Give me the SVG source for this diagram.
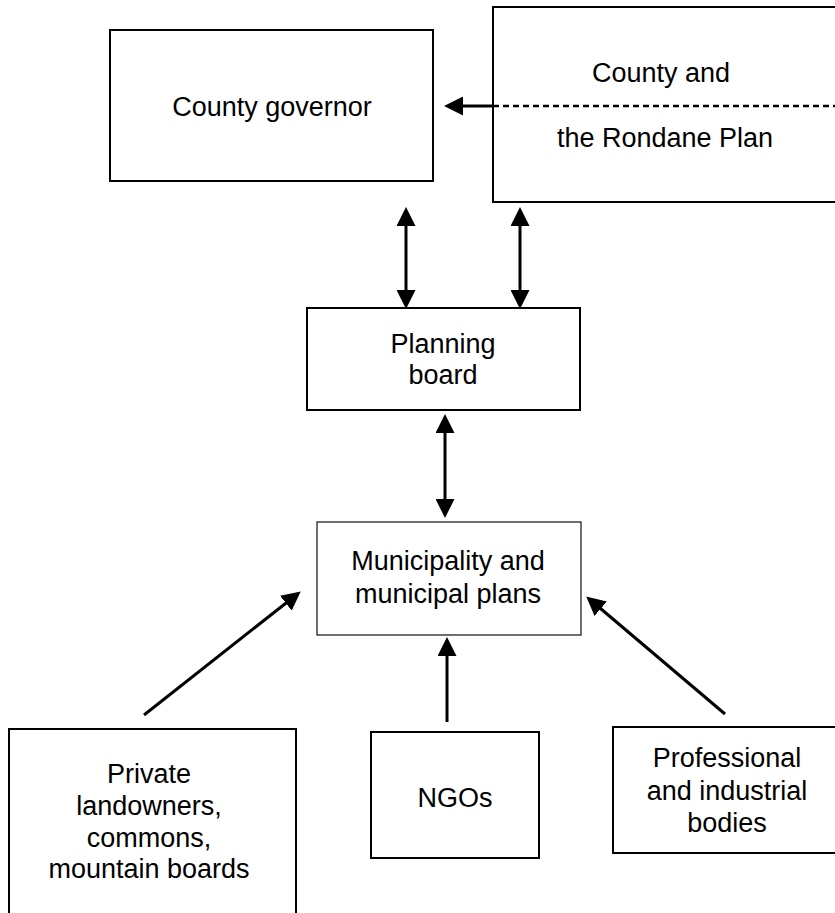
<svg xmlns="http://www.w3.org/2000/svg" width="835" height="913" viewBox="0 0 835 913">
  <style>
    .box { fill: #ffffff; stroke: #000000; stroke-width: 2; }
    .thin { stroke-width: 1.3; stroke: #222222; }
    .lbl { font-family: "Liberation Sans", Arial, Helvetica, sans-serif; font-size: 27px; fill: #000000; text-anchor: middle; }
    .arr { stroke: #000000; stroke-width: 3; fill: none; }
    .dash { stroke: #000000; stroke-width: 2.5; stroke-dasharray: 6 4; fill: none; }
  </style>
  <defs>
    <!-- triangular head; tip sits 10 units beyond the line end -->
    <marker id="head" viewBox="0 0 19 19" refX="8" refY="9.5" markerWidth="19" markerHeight="19" markerUnits="userSpaceOnUse" orient="auto-start-reverse">
      <path d="M0,0 L19,9.5 L0,19 Z" fill="#000000"/>
    </marker>
  </defs>

  <g id="county-governor">
    <rect class="box" x="110" y="30" width="323" height="151"/>
    <text class="lbl" x="272" y="116">County governor</text>
  </g>

  <g id="county-rondane">
    <rect class="box" x="493" y="7" width="360" height="195"/>
    <text class="lbl" x="661" y="82">County and</text>
    <text class="lbl" x="665" y="147">the Rondane Plan</text>
  </g>

  <g id="planning-board">
    <rect class="box" x="307" y="308" width="273" height="102"/>
    <text class="lbl" x="443" y="353">Planning</text>
    <text class="lbl" x="443" y="384">board</text>
  </g>

  <g id="municipality">
    <rect class="box thin" x="317" y="522" width="264" height="113"/>
    <text class="lbl" x="448" y="570">Municipality and</text>
    <text class="lbl" x="448" y="603">municipal plans</text>
  </g>

  <g id="private">
    <rect class="box" x="9" y="729" width="287" height="200"/>
    <text class="lbl" x="149" y="783">Private</text>
    <text class="lbl" x="149" y="815">landowners,</text>
    <text class="lbl" x="149" y="847">commons,</text>
    <text class="lbl" x="149" y="878">mountain boards</text>
  </g>

  <g id="ngos">
    <rect class="box" x="371" y="732" width="168" height="126"/>
    <text class="lbl" x="455" y="807">NGOs</text>
  </g>

  <g id="professional">
    <rect class="box" x="613" y="727" width="240" height="126"/>
    <text class="lbl" x="727" y="767">Professional</text>
    <text class="lbl" x="727" y="800">and industrial</text>
    <text class="lbl" x="727" y="832">bodies</text>
  </g>

  <g id="connectors">
    <!-- dashed divider through the county box, continuing as the arrow to the governor -->
    <line class="dash" x1="493" y1="106" x2="835" y2="106"/>
    <line class="arr" x1="494" y1="106" x2="455" y2="106" marker-end="url(#head)"/>
    <!-- two-way links between the upper level and the planning board -->
    <line class="arr" x1="406" y1="218" x2="406" y2="298" marker-start="url(#head)" marker-end="url(#head)"/>
    <line class="arr" x1="520" y1="218" x2="520" y2="298" marker-start="url(#head)" marker-end="url(#head)"/>
    <line class="arr" x1="445" y1="425" x2="445" y2="507" marker-start="url(#head)" marker-end="url(#head)"/>
    <!-- inputs to the municipality -->
    <line class="arr" x1="144" y1="715" x2="292.1" y2="598.2" marker-end="url(#head)"/>
    <line class="arr" x1="447" y1="722" x2="447" y2="648" marker-end="url(#head)"/>
    <line class="arr" x1="725" y1="714" x2="594.6" y2="603.5" marker-end="url(#head)"/>
  </g>
</svg>
